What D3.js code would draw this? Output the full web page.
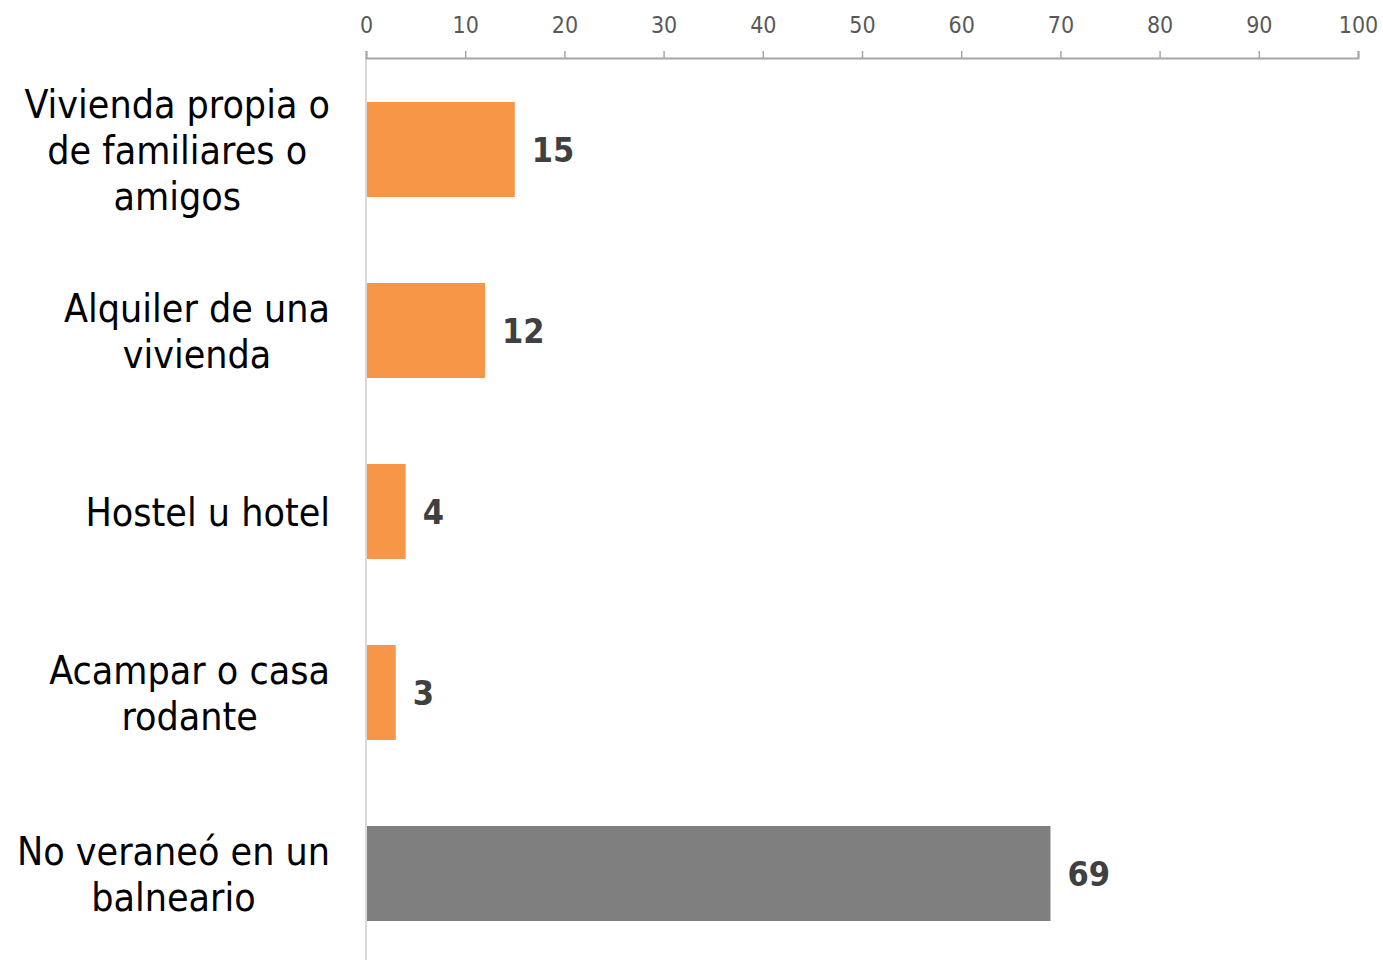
<!DOCTYPE html>
<html><head><meta charset="utf-8">
<script src="https://cdn.jsdelivr.net/npm/d3@7"></script>
<style>body{margin:0;background:#fff}svg{display:block}</style>
</head><body>
<script>
const categories = [
  ["Vivienda propia o", "de familiares o", "amigos"],
  ["Alquiler de una", "vivienda"],
  ["Hostel u hotel"],
  ["Acampar o casa", "rodante"],
  ["No veraneó en un", "balneario"]
];
const values = [15, 12, 4, 3, 69];
const barColors = ["#F79646", "#F79646", "#F79646", "#F79646", "#7F7F7F"];
const tickValues = [0, 10, 20, 30, 40, 50, 60, 70, 80, 90, 100];

const W = 1383, H = 960;
const font = "'DejaVu Sans', sans-serif";
const svg = d3.select("body").append("svg").attr("width", W).attr("height", H);

const x = d3.scaleLinear().domain([0, 100]).range([366, 1358]);
const y = d3.scaleBand().domain(d3.range(values.length)).range([58, 965]).paddingInner(0.475).paddingOuter(0.243);

// vertical axis line
svg.append("line").attr("x1", x(0)).attr("x2", x(0)).attr("y1", 58).attr("y2", H)
  .attr("stroke", "#d9d9d9").attr("stroke-width", 2);

// top axis
const ax = svg.append("g").attr("transform", "translate(0,58)")
  .call(d3.axisTop(x).tickValues(tickValues).tickSize(7).tickPadding(18).tickFormat(d3.format("d")));
ax.select(".domain").attr("stroke", "#a6a6a6").attr("stroke-width", 2);
ax.selectAll(".tick line").attr("stroke", "#a6a6a6").attr("stroke-width", 1.5);
ax.selectAll(".tick text").attr("fill", "#595959").attr("font-family", font)
  .attr("font-size", 23).style("font-stretch", "condensed");

// bars
svg.selectAll("rect.bar").data(values).enter().append("rect")
  .attr("x", x(0) + 1).attr("y", (d, i) => y(i))
  .attr("width", d => x(d) - x(0) - 1).attr("height", y.bandwidth())
  .attr("fill", (d, i) => barColors[i]);

// value labels
svg.selectAll("text.val").data(values).enter().append("text")
  .attr("x", d => x(d) + 17).attr("y", (d, i) => y(i) + y.bandwidth() / 2)
  .attr("dy", "0.36em").attr("fill", "#404040").attr("font-family", font)
  .attr("font-weight", "bold").attr("font-size", 34).style("font-stretch", "condensed")
  .text(d => d);

// category labels
const lineH = 46;
categories.forEach((lines, i) => {
  const cy = y(i) + y.bandwidth() / 2;
  const g = svg.append("g");
  const texts = lines.map((t, j) => g.append("text")
    .attr("y", cy + (j - (lines.length - 1) / 2) * lineH)
    .attr("dy", "0.36em").attr("font-family", font).attr("font-size", 39)
    .style("font-stretch", "condensed").attr("fill", "#000").attr("text-anchor", "middle").text(t));
  const maxW = d3.max(texts, t => t.node().getComputedTextLength());
  texts.forEach(t => t.attr("x", 330 - maxW / 2));
});
</script>
</body></html>
